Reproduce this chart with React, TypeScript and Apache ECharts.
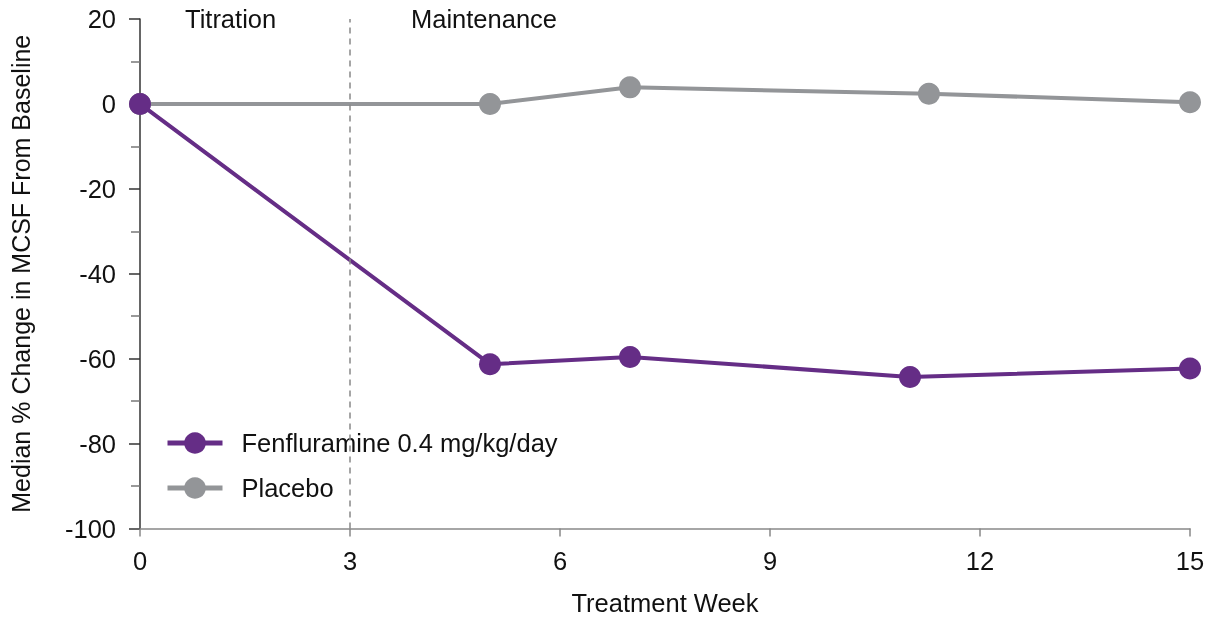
import React, { useEffect, useRef } from "react";
import * as echarts from "echarts";

const seriesNames = ["Fenfluramine 0.4 mg/kg/day", "Placebo"];
const fenWeeks = [0, 5, 7, 11, 15];
const fenValues = [0, -61.3, -59.6, -64.3, -62.3];
const placeboWeeks = [0, 5, 7, 11.27, 15];
const placeboValues = [0, 0, 3.9, 2.4, 0.4];
const phaseBoundaryWeek = 3;
const phaseLabels = ["Titration", "Maintenance"];

const FONT = "'Liberation Sans', Arial, sans-serif";
const TEXT = "#111111";
const PURPLE = "#652d86";
const GRAY = "#939598";

export default function App() {
  const ref = useRef<HTMLDivElement>(null);
  useEffect(() => {
    if (!ref.current) return;
    const chart = echarts.init(ref.current, undefined, { renderer: "svg" });
    const pair = (xs: number[], ys: number[]) => xs.map((x, i) => [x, ys[i]]);
    chart.setOption({
      animation: false,
      textStyle: { fontFamily: FONT },
      grid: { left: 140, right: 20, top: 19, bottom: 90.5, containLabel: false, outerBoundsMode: "none" },
      legend: {
        orient: "vertical",
        left: 160,
        top: 425,
        itemWidth: 55,
        itemHeight: 27,
        itemGap: 19,
        data: seriesNames,
        lineStyle: { width: 5 },
        textStyle: { fontSize: 25.5, color: TEXT, fontFamily: FONT, padding: [0, 0, 0, 14] },
      },
      xAxis: {
        type: "value",
        min: 0,
        max: 15,
        interval: 3,
        name: "Treatment Week",
        nameLocation: "middle",
        nameGap: 61,
        nameTextStyle: { fontSize: 25.5, color: TEXT, fontFamily: FONT },
        axisLine: { show: true, onZero: false, lineStyle: { color: "#888888", width: 1.5 } },
        axisTick: { show: true, length: 8, lineStyle: { color: "#888888", width: 1.5 } },
        axisLabel: { fontSize: 25.5, color: TEXT, margin: 19, fontFamily: FONT },
        splitLine: { show: false },
      },
      yAxis: {
        type: "value",
        min: -100,
        max: 20,
        interval: 20,
        name: "Median % Change in MCSF From Baseline",
        nameLocation: "middle",
        nameGap: 107,
        nameTextStyle: { fontSize: 25, color: TEXT, fontFamily: FONT },
        axisLine: { show: true, onZero: false, lineStyle: { color: "#333333", width: 1.5 } },
        axisTick: { show: true, length: 11, lineStyle: { color: "#333333", width: 1.5 } },
        minorTick: { show: true, splitNumber: 2, length: 9, lineStyle: { color: "#777777", width: 1.5 } },
        axisLabel: { fontSize: 25.5, color: TEXT, margin: 24, fontFamily: FONT },
        splitLine: { show: false },
      },
      graphic: [
        { type: "text", left: 185, top: 6, style: { text: phaseLabels[0], font: `25.5px ${FONT}`, fill: TEXT } },
        { type: "text", left: 411, top: 6, style: { text: phaseLabels[1], font: `25.5px ${FONT}`, fill: TEXT } },
      ],
      series: [
        {
          name: seriesNames[1],
          type: "line",
          data: pair(placeboWeeks, placeboValues),
          symbol: "circle",
          symbolSize: 22,
          lineStyle: { color: GRAY, width: 4 },
          itemStyle: { color: GRAY },
          z: 2,
          markLine: {
            silent: true,
            symbol: "none",
            label: { show: false },
            lineStyle: { color: "#888888", type: [6, 5], width: 1.5 },
            data: [{ xAxis: phaseBoundaryWeek }],
          },
        },
        {
          name: seriesNames[0],
          type: "line",
          data: pair(fenWeeks, fenValues),
          symbol: "circle",
          symbolSize: 22,
          lineStyle: { color: PURPLE, width: 4 },
          itemStyle: { color: PURPLE },
          z: 3,
        },
      ],
    });
    return () => chart.dispose();
  }, []);
  return <div ref={ref} style={{ position: "fixed", left: 0, top: 0, width: 1210, height: 619 }} />;
}
